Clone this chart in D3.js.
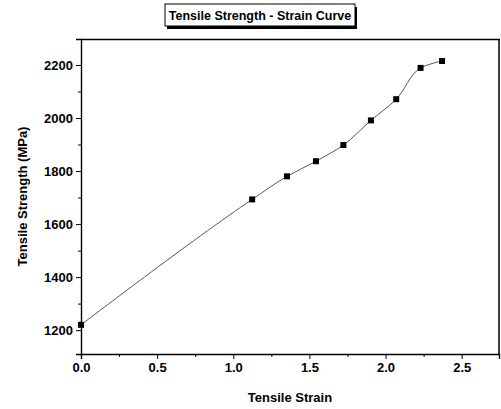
<!DOCTYPE html>
<html>
<head>
<meta charset="utf-8">
<script src="https://cdn.jsdelivr.net/npm/d3@7"></script>
<style>
  body { margin: 0; background: #fff; }
  text { font-family: "Liberation Sans", Arial, sans-serif; font-weight: bold; fill: #000; }
</style>
</head>
<body>
<div id="chart"></div>
<script>

// data
let strain = [0.0, 1.124, 1.353, 1.543, 1.723, 1.904, 2.070, 2.230, 2.371];
let strength = [1220, 1693, 1780, 1837, 1898, 1991, 2071, 2189, 2215];
let xTicks = [0, 0.5, 1.0, 1.5, 2.0, 2.5];
let yTicks = [1200, 1400, 1600, 1800, 2000, 2200];

let width = 501, height = 409;
let margin = {top: 39, right: 2, bottom: 55, left: 81};
let w = width - margin.left - margin.right;
let h = height - margin.top - margin.bottom;

let svg = d3.select("#chart").append("svg")
    .attr("width", width)
    .attr("height", height);

let g = svg.append("g")
    .attr("transform", "translate(" + margin.left + "," + margin.top + ")");

// scales
let x = d3.scaleLinear().domain([0, 2.745]).range([0, w]);
let y = d3.scaleLinear().domain([1110, 2298]).range([h, 0]);

// axes with minor ticks
let xMinor = d3.range(0.25, 2.75, 0.5);
let yMinor = [1300, 1500, 1700, 1900, 2100];

g.append("g").attr("transform", "translate(0," + h + ")")
    .call(d3.axisBottom(x).tickValues(xTicks).tickFormat(d3.format(".1f")).tickSize(5).tickPadding(4));
g.append("g").attr("transform", "translate(0," + h + ")")
    .call(d3.axisBottom(x).tickValues(xMinor).tickFormat("").tickSize(3))
    .select(".domain").remove();

g.append("g")
    .call(d3.axisLeft(y).tickValues(yTicks).tickFormat(d3.format("d")).tickSize(5).tickPadding(3));
g.append("g")
    .call(d3.axisLeft(y).tickValues(yMinor).tickFormat("").tickSize(3))
    .select(".domain").remove();

g.selectAll(".domain").attr("stroke", "#000").attr("stroke-width", 1.4);
g.selectAll(".tick text")
    .attr("font-size", 13)
    .attr("font-family", "'Liberation Sans', Arial, sans-serif")
    .attr("font-weight", "bold");

// curve
let pts = strain.map((d, i) => [d, strength[i]]);
let line = d3.line()
    .x(d => x(d[0]))
    .y(d => y(d[1]))
    .curve(d3.curveCatmullRom.alpha(1));

g.append("path")
    .datum(pts)
    .attr("fill", "none")
    .attr("stroke", "#444")
    .attr("stroke-width", 0.9)
    .attr("d", line);

g.selectAll(".pt")
    .data(pts)
    .join("rect")
    .attr("class", "pt")
    .attr("x", d => x(d[0]) - 3)
    .attr("y", d => y(d[1]) - 3)
    .attr("width", 6)
    .attr("height", 6)
    .attr("fill", "#000");

// axis titles
svg.append("text")
    .attr("x", margin.left + w / 2)
    .attr("y", 402)
    .attr("text-anchor", "middle")
    .attr("font-size", 13)
    .text("Tensile Strain");

svg.append("text")
    .attr("transform", "translate(27," + (margin.top + h / 2) + ") rotate(-90)")
    .attr("text-anchor", "middle")
    .attr("font-size", 13)
    .text("Tensile Strength (MPa)");

// title box with shadow
let tb = {x: 165, y: 4, w: 190, h: 22};
svg.append("rect")
    .attr("x", tb.x + 2).attr("y", tb.y + 3)
    .attr("width", tb.w).attr("height", tb.h)
    .attr("fill", "#000");
svg.append("rect")
    .attr("x", tb.x).attr("y", tb.y)
    .attr("width", tb.w).attr("height", tb.h)
    .attr("fill", "#fff").attr("stroke", "#000").attr("stroke-width", 1);
svg.append("text")
    .attr("x", tb.x + tb.w / 2)
    .attr("y", tb.y + 16)
    .attr("text-anchor", "middle")
    .attr("font-size", 12.5)
    .text("Tensile Strength - Strain Curve");

// frame top and right edges, drawn last on top of everything
svg.append("line")
    .attr("x1", margin.left).attr("y1", margin.top + 0.5)
    .attr("x2", margin.left + w + 1).attr("y2", margin.top + 0.5)
    .attr("stroke", "#000").attr("stroke-width", 1.5);
svg.append("line")
    .attr("x1", margin.left + w).attr("y1", margin.top)
    .attr("x2", margin.left + w).attr("y2", margin.top + h)
    .attr("stroke", "#000").attr("stroke-width", 1.5);

</script>
</body>
</html>
